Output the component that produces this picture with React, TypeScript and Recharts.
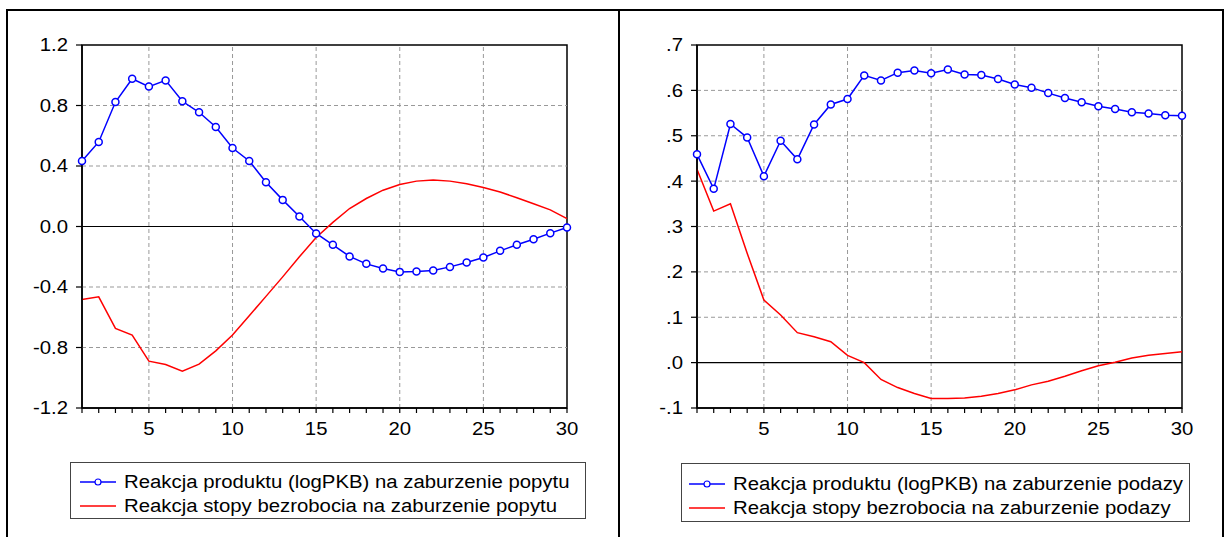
import React from "react";
import {
  LineChart,
  Line,
  XAxis,
  YAxis,
  ReferenceLine,
  ReferenceArea,
} from "recharts";

// horizon 1..30
const periods = [
  1, 2, 3, 4, 5, 6, 7, 8, 9, 10, 11, 12, 13, 14, 15,
  16, 17, 18, 19, 20, 21, 22, 23, 24, 25, 26, 27, 28, 29, 30,
];
const gridX = [5, 10, 15, 20, 25];

// demand shock
const demandOutput = [
  0.433, 0.559, 0.823, 0.977, 0.925, 0.966, 0.828, 0.755, 0.658, 0.519,
  0.433, 0.293, 0.176, 0.066, -0.046, -0.121, -0.198, -0.247, -0.278, -0.3,
  -0.297, -0.291, -0.267, -0.238, -0.205, -0.161, -0.121, -0.084, -0.044, -0.007,
];
const demandUnemp = [
  -0.482, -0.465, -0.674, -0.718, -0.89, -0.912, -0.956, -0.91, -0.822, -0.718,
  -0.59, -0.462, -0.333, -0.2, -0.073, 0.027, 0.119, 0.185, 0.24, 0.278,
  0.3, 0.308, 0.3, 0.283, 0.258, 0.228, 0.19, 0.15, 0.11, 0.052,
];
const demandTicks = [-1.2, -0.8, -0.4, 0, 0.4, 0.8, 1.2];
const demandNames = [
  "Reakcja produktu (logPKB) na zaburzenie popytu",
  "Reakcja stopy bezrobocia na zaburzenie popytu",
];

// supply shock
const supplyOutput = [
  0.459, 0.383, 0.526, 0.496, 0.411, 0.489, 0.448, 0.525, 0.569, 0.581,
  0.633, 0.622, 0.639, 0.644, 0.638, 0.646, 0.635, 0.634, 0.625, 0.613,
  0.606, 0.594, 0.583, 0.574, 0.565, 0.559, 0.552, 0.549, 0.545, 0.544,
];
const supplyUnemp = [
  0.426, 0.334, 0.35, 0.241, 0.138, 0.105, 0.066, 0.057, 0.046, 0.016,
  0.0, -0.037, -0.055, -0.068, -0.079, -0.079, -0.078, -0.074, -0.068, -0.06,
  -0.049, -0.041, -0.03, -0.018, -0.007, 0.001, 0.01, 0.016, 0.02, 0.024,
];
const supplyTicks = [-0.1, 0, 0.1, 0.2, 0.3, 0.4, 0.5, 0.6, 0.7];
const supplyNames = [
  "Reakcja produktu (logPKB) na zaburzenie podazy",
  "Reakcja stopy bezrobocia na zaburzenie podazy",
];

const FONT = "'Liberation Sans', Arial, sans-serif";
const BLUE = "#0000ff";
const RED = "#ff0000";
const STRETCH = 1.13;

const fmtDemand = (v: number) => v.toFixed(1);
const fmtSupply = (v: number) => v.toFixed(1).replace("0.", ".");

function XTick(props: any) {
  const { x, y, payload } = props;
  const v = payload.value;
  if (v % 5 !== 0) return null;
  return (
    <g transform={`translate(${x},${y})`}>
      <text
        transform={`scale(${STRETCH},1)`}
        textAnchor="middle"
        dy="0.71em"
        fontSize={18}
        fontFamily={FONT}
        fill="#000"
      >
        {v}
      </text>
    </g>
  );
}

function makeYTick(fmt: (v: number) => string) {
  return (props: any) => {
    const { x, y, payload } = props;
    return (
      <g transform={`translate(${x},${y})`}>
        <text
          transform={`scale(${STRETCH},1)`}
          textAnchor="end"
          dy="0.355em"
          fontSize={18}
          fontFamily={FONT}
          fill="#000"
        >
          {fmt(payload.value)}
        </text>
      </g>
    );
  };
}

interface PanelProps {
  left: number;
  width: number;
  yAxisWidth: number;
  marginRight: number;
  output: number[];
  unemp: number[];
  yTicks: number[];
  fmt: (v: number) => string;
}

function Panel({ left, width, yAxisWidth, marginRight, output, unemp, yTicks, fmt }: PanelProps) {
  const rows = periods.map((t, i) => ({ t, output: output[i], unemp: unemp[i] }));
  const yMin = yTicks[0];
  const yMax = yTicks[yTicks.length - 1];
  const inner = yTicks.filter((v) => v !== 0 && v !== yMin && v !== yMax);
  return (
    <div style={{ position: "absolute", left, top: 0 }}>
      <LineChart
        width={width}
        height={537}
        data={rows}
        margin={{ top: 45, right: marginRight, bottom: 99, left: 0 }}
      >
        <XAxis
          dataKey="t"
          type="number"
          domain={[1, 30]}
          ticks={periods}
          interval={0}
          height={30}
          tickSize={5}
          tickMargin={9}
          tick={<XTick />}
          tickLine={{ stroke: "#000", strokeWidth: 1.2 }}
          stroke="#000"
          strokeWidth={1.5}
        />
        <YAxis
          type="number"
          domain={[yMin, yMax]}
          ticks={yTicks}
          interval={0}
          width={yAxisWidth}
          tickSize={6}
          tickMargin={8}
          tick={makeYTick(fmt)}
          tickLine={{ stroke: "#000", strokeWidth: 1.2 }}
          stroke="#000"
          strokeWidth={1.5}
        />
        {gridX.map((v) => (
          <ReferenceLine key={"x" + v} x={v} stroke="#999" strokeDasharray="4 3" />
        ))}
        {inner.map((v) => (
          <ReferenceLine key={"y" + v} y={v} stroke="#999" strokeDasharray="4 3" />
        ))}
        <ReferenceLine y={0} stroke="#000" strokeWidth={1.2} />
        <ReferenceArea x1={1} x2={30} y1={yMin} y2={yMax} fill="none" stroke="#000" strokeWidth={1.5} />
        <Line
          type="linear"
          dataKey="unemp"
          stroke={RED}
          strokeWidth={1.5}
          dot={false}
          isAnimationActive={false}
        />
        <Line
          type="linear"
          dataKey="output"
          stroke={BLUE}
          strokeWidth={1.5}
          dot={{ r: 3.5, fill: "#fff", stroke: BLUE, strokeWidth: 1.5 }}
          isAnimationActive={false}
        />
      </LineChart>
    </div>
  );
}

interface LegendProps {
  left: number;
  top: number;
  width: number;
  height: number;
  names: string[];
  sampleX: number;
  textX: number;
  rowY: number[];
}

function LegendBox({ left, top, width, height, names, sampleX, textX, rowY }: LegendProps) {
  const colors = [BLUE, RED];
  return (
    <div
      style={{
        position: "absolute",
        left,
        top,
        width,
        height,
        border: "1px solid #444",
        boxSizing: "border-box",
        fontFamily: FONT,
        fontSize: 18,
        color: "#000",
      }}
    >
      {names.map((name, i) => (
        <React.Fragment key={name}>
          <svg
            width={38}
            height={10}
            style={{ position: "absolute", left: sampleX, top: rowY[i] - 5 }}
          >
            <line x1={0} x2={36} y1={5} y2={5} stroke={colors[i]} strokeWidth={1.5} />
            {i === 0 && <circle cx={18} cy={5} r={3} fill="#fff" stroke={BLUE} strokeWidth={1.2} />}
          </svg>
          <span
            style={{
              position: "absolute",
              left: textX,
              top: rowY[i] - 11,
              lineHeight: "22px",
              whiteSpace: "nowrap",
              transform: `scaleX(${STRETCH})`,
              transformOrigin: "left center",
            }}
          >
            {name}
          </span>
        </React.Fragment>
      ))}
    </div>
  );
}

export default function App() {
  const frame = "#000";
  return (
    <div
      style={{
        position: "absolute",
        left: 0,
        top: 0,
        width: 1225,
        height: 537,
        background: "#fff",
        overflow: "hidden",
      }}
    >
      <Panel
        left={0}
        width={620}
        yAxisWidth={82}
        marginRight={53}
        output={demandOutput}
        unemp={demandUnemp}
        yTicks={demandTicks}
        fmt={fmtDemand}
      />
      <Panel
        left={620}
        width={605}
        yAxisWidth={77}
        marginRight={43}
        output={supplyOutput}
        unemp={supplyUnemp}
        yTicks={supplyTicks}
        fmt={fmtSupply}
      />
      <LegendBox
        left={70}
        top={462}
        width={516}
        height={57}
        names={demandNames}
        sampleX={9}
        textX={53}
        rowY={[18.5, 42.5]}
      />
      <LegendBox
        left={681}
        top={463}
        width={509}
        height={59}
        names={supplyNames}
        sampleX={7}
        textX={51}
        rowY={[20, 44]}
      />
      {/* outer frame */}
      <div style={{ position: "absolute", left: 7, top: 9, width: 1216, height: 2, background: frame }} />
      <div style={{ position: "absolute", left: 6, top: 9, width: 2, height: 528, background: frame }} />
      <div style={{ position: "absolute", left: 618, top: 9, width: 2, height: 528, background: frame }} />
      <div style={{ position: "absolute", left: 1222, top: 9, width: 2, height: 528, background: frame }} />
    </div>
  );
}
